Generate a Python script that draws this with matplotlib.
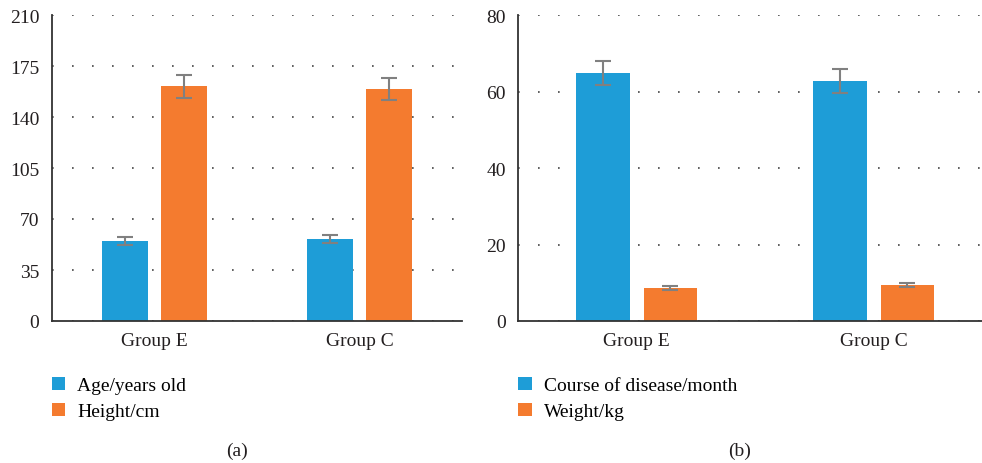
import matplotlib.pyplot as plt
import numpy as np

plt.rcParams['font.family'] = ['Liberation Serif', 'DejaVu Serif']

groups = ["Group E", "Group C"]

# panel (a)
age = [54.7, 56.3]
age_err = [2.8, 2.9]
height = [161.0, 159.2]
height_err = [7.9, 7.8]

# panel (b)
course = [64.8, 62.7]
course_err = [3.2, 3.2]
weight = [8.6, 9.4]
weight_err = [0.5, 0.5]

blue = "#1e9dd7"
orange = "#f47b2f"
W, H = 982, 464

fig = plt.figure(figsize=(W / 100, H / 100), dpi=100)
ax1 = fig.add_axes([52 / W, 142 / H, 410 / W, 306 / H])
ax2 = fig.add_axes([518.3 / W, 142 / H, 474 / W, 306 / H])

x = np.arange(len(groups))
bw = 0.225
off = 0.142
ekw = dict(ecolor="#808080", elinewidth=1.5, capthick=1.5)


def panel(ax, s1, e1, s2, e2, ymax, step, labels, lx, cap, cx):
    ax.bar(x - off, s1, bw, color=blue, yerr=e1, capsize=5.5, error_kw=ekw,
           label=labels[0], zorder=2)
    ax.bar(x + off, s2, bw, color=orange, yerr=e2, capsize=5.5, error_kw=ekw,
           label=labels[1], zorder=2)
    ax.set_xlim(-0.5, 1.5)
    ax.set_ylim(0, ymax)
    ax.set_yticks(np.arange(0, ymax + 1, step))
    ax.set_xticks(x)
    ax.set_xticklabels(groups)
    ax.tick_params(length=0, labelsize=14, colors="#231f20")
    ax.tick_params(axis="y", pad=9)
    ax.tick_params(axis="x", pad=8)
    for s in ["top", "right"]:
        ax.spines[s].set_visible(False)
    for s in ["left", "bottom"]:
        ax.spines[s].set_color("#333333")
        ax.spines[s].set_linewidth(1.3)
        ax.spines[s].set_zorder(3)
    ax.yaxis.grid(True, color="#444444", linestyle=(0, (1, 11)), linewidth=1.2, zorder=0)
    ax.set_axisbelow(True)
    ax.legend(loc="upper left", bbox_to_anchor=(lx / W, 1 - 378 / H),
              bbox_transform=fig.transFigure, frameon=False, fontsize=14,
              handlelength=0.68, handleheight=0.68, handletextpad=0.62,
              labelspacing=0.42, borderpad=0, borderaxespad=0)
    fig.text(cx / W, 1 - 451 / H, cap, ha="center", va="center", fontsize=14,
             color="#231f20")


panel(ax1, age, age_err, height, height_err, 210, 35,
      ["Age/years old", "Height/cm"], 51.7, "(a)", 236.7)
panel(ax2, course, course_err, weight, weight_err, 80, 20,
      ["Course of disease/month", "Weight/kg"], 518.3, "(b)", 740)

fig.savefig("out.png", dpi=100)
